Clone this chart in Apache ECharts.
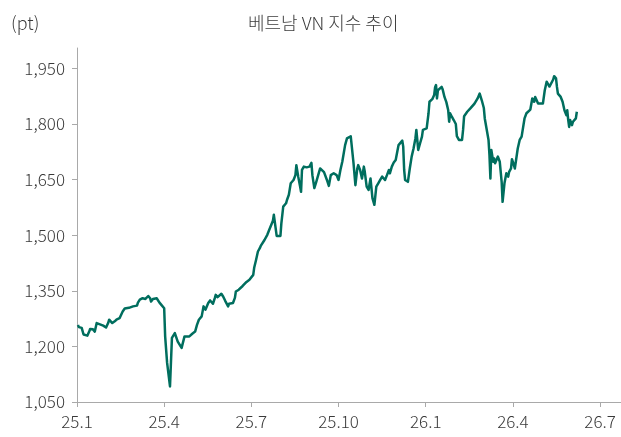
<!DOCTYPE html>
<html>
<head>
<meta charset="utf-8">
<script src="https://cdn.jsdelivr.net/npm/echarts@6/dist/echarts.min.js"></script>
<style>
html,body{margin:0;padding:0;background:#fff;}
#chart{width:621px;height:437px;}
</style>
</head>
<body>
<div id="chart"></div>
<script>
const titleText = '베트남 VN 지수 추이';
const unitText = '(pt)';
const yTicks = [1050, 1200, 1350, 1500, 1650, 1800, 1950];
const xTickMonths = [0, 3, 6, 9, 12, 15, 18];

const dates = [
'2025-01-02','2025-01-03','2025-01-04','2025-01-06','2025-01-08','2025-01-10','2025-01-12','2025-01-14','2025-01-15','2025-01-18',
'2025-01-20','2025-01-22','2025-01-24','2025-01-29','2025-02-01','2025-02-03','2025-02-04','2025-02-07','2025-02-09','2025-02-11',
'2025-02-14','2025-02-17','2025-02-19','2025-02-23','2025-02-27','2025-03-03','2025-03-04','2025-03-06','2025-03-09','2025-03-11',
'2025-03-12','2025-03-14','2025-03-15','2025-03-17','2025-03-18','2025-03-20','2025-03-22','2025-03-24','2025-03-25','2025-03-27',
'2025-03-29','2025-03-30','2025-04-01','2025-04-02','2025-04-04','2025-04-07','2025-04-09','2025-04-12','2025-04-13','2025-04-15',
'2025-04-16','2025-04-19','2025-04-22','2025-04-24','2025-04-27','2025-04-30','2025-05-03','2025-05-05','2025-05-07','2025-05-10',
'2025-05-12','2025-05-14','2025-05-17','2025-05-19','2025-05-22','2025-05-24','2025-05-25','2025-05-27','2025-05-29','2025-05-31',
'2025-06-02','2025-06-04','2025-06-07','2025-06-08','2025-06-12','2025-06-14','2025-06-15','2025-06-18','2025-06-22','2025-06-26',
'2025-06-29','2025-07-03','2025-07-04','2025-07-06','2025-07-08','2025-07-10','2025-07-11','2025-07-13','2025-07-15','2025-07-17',
'2025-07-18','2025-07-20','2025-07-22','2025-07-24','2025-07-25','2025-07-27','2025-07-28','2025-07-30','2025-08-01','2025-08-02',
'2025-08-04','2025-08-07','2025-08-08','2025-08-10','2025-08-12','2025-08-14','2025-08-15','2025-08-17','2025-08-18','2025-08-20',
'2025-08-22','2025-08-23','2025-08-24','2025-08-26','2025-08-29','2025-09-01','2025-09-03','2025-09-04','2025-09-06','2025-09-08',
'2025-09-10','2025-09-12','2025-09-13','2025-09-16','2025-09-19','2025-09-21','2025-09-23','2025-09-26','2025-09-29','2025-10-01',
'2025-10-03','2025-10-05','2025-10-07','2025-10-08','2025-10-10','2025-10-12','2025-10-14','2025-10-15','2025-10-17','2025-10-19',
'2025-10-21','2025-10-22','2025-10-24','2025-10-26','2025-10-28','2025-10-29','2025-10-31','2025-11-02','2025-11-04','2025-11-05',
'2025-11-06','2025-11-08','2025-11-10','2025-11-12','2025-11-14','2025-11-16','2025-11-19','2025-11-21','2025-11-23','2025-11-24',
'2025-11-26','2025-11-28','2025-11-30','2025-12-02','2025-12-03','2025-12-05','2025-12-07','2025-12-08','2025-12-09','2025-12-10',
'2025-12-13','2025-12-15','2025-12-17','2025-12-19','2025-12-21','2025-12-22','2025-12-24','2025-12-26','2025-12-28','2025-12-29',
'2026-01-02','2026-01-04','2026-01-05','2026-01-08','2026-01-10','2026-01-11','2026-01-12','2026-01-13','2026-01-14','2026-01-16',
'2026-01-18','2026-01-19','2026-01-21','2026-01-23','2026-01-25','2026-01-26','2026-01-27','2026-01-29','2026-01-31','2026-02-02',
'2026-02-03','2026-02-05','2026-02-08','2026-02-09','2026-02-10','2026-02-13','2026-02-16','2026-02-20','2026-02-23','2026-02-25',
'2026-02-26','2026-02-27','2026-03-01','2026-03-02','2026-03-04','2026-03-06','2026-03-07','2026-03-08','2026-03-09','2026-03-11',
'2026-03-12','2026-03-13','2026-03-14','2026-03-16','2026-03-18','2026-03-20','2026-03-21','2026-03-23','2026-03-25','2026-03-27',
'2026-03-28','2026-03-30','2026-03-31','2026-04-02','2026-04-03','2026-04-05','2026-04-06','2026-04-08','2026-04-10','2026-04-11',
'2026-04-13','2026-04-15','2026-04-17','2026-04-19','2026-04-21','2026-04-23','2026-04-24','2026-04-26','2026-04-27','2026-04-29',
'2026-05-02','2026-05-04','2026-05-06','2026-05-07','2026-05-09','2026-05-11','2026-05-13','2026-05-14','2026-05-16','2026-05-17',
'2026-05-18','2026-05-20','2026-05-21','2026-05-23','2026-05-25','2026-05-27','2026-05-28','2026-05-29','2026-05-30','2026-05-31',
'2026-06-02','2026-06-03','2026-06-04','2026-06-06','2026-06-07'
];

const vnIndex = [
1258,1252,1247,1250,1232,1233,1229,1240,1247,1246,
1240,1263,1261,1256,1251,1263,1272,1263,1267,1272,
1276,1294,1302,1304,1308,1310,1318,1326,1330,1333,
1328,1333,1336,1330,1321,1328,1333,1330,1326,1318,
1312,1317,1303,1227,1156,1092,1223,1236,1240,1213,
1218,1196,1227,1226,1227,1234,1240,1258,1272,1281,
1308,1299,1317,1324,1315,1330,1339,1333,1333,1342,
1334,1323,1308,1315,1317,1331,1348,1353,1363,1374,
1380,1393,1412,1433,1456,1465,1471,1469,1487,1487,
1501,1514,1517,1539,1555,1557,1498,1493,1498,1532,
1577,1586,1595,1609,1640,1635,1649,1662,1689,1658,
1631,1617,1676,1685,1683,1685,1695,1662,1627,1644,
1662,1680,1676,1670,1649,1633,1662,1667,1662,1649,
1676,1698,1698,1743,1761,1766,1767,1765,1694,1635,
1680,1689,1676,1653,1685,1671,1631,1622,1653,1649,
1600,1582,1631,1640,1649,1658,1649,1662,1676,1667,
1685,1696,1703,1730,1743,1749,1755,1739,1676,1649,
1644,1680,1712,1734,1761,1784,1730,1748,1766,1784,
1788,1829,1860,1867,1878,1899,1905,1869,1891,1896,
1900,1894,1873,1859,1837,1806,1829,1819,1810,1800,
1767,1757,1757,1784,1821,1833,1842,1855,1869,1882,
1879,1864,1843,1815,1810,1757,1716,1653,1730,1698,
1707,1694,1698,1712,1698,1644,1590,1640,1667,1658,
1671,1680,1705,1689,1680,1676,1734,1757,1766,1770,
1815,1829,1833,1839,1869,1860,1873,1875,1855,1855,
1855,1891,1914,1910,1901,1900,1920,1929,1923,1900,
1882,1887,1873,1860,1837,1824,1837,1811,1792,1811,
1797,1806,1802,1815,1833
];

// months elapsed since 2025-01-01 (fractional), so quarters are evenly spaced
function toMonths(s) {
  const p = s.split('-').map(Number);
  const dim = new Date(p[0], p[1], 0).getDate();
  return (p[0] - 2025) * 12 + (p[1] - 1) + (p[2] - 1) / dim;
}
const seriesData = dates.map((d, i) => [toMonths(d), vnIndex[i]]);

const font = "'Noto Sans CJK KR', 'Noto Sans', sans-serif";
const textColor = '#3a3a3a';
const axisColor = '#a9a9a9';

const chart = echarts.init(document.getElementById('chart'), null, {renderer: 'canvas'});
chart.setOption({
  animation: false,
  backgroundColor: '#ffffff',
  title: [
    {text: titleText, left: 243, top: 9,
     textStyle: {fontFamily: font, fontSize: 18, fontWeight: 300, color: textColor}},
    {text: unitText, left: 6, top: 9,
     textStyle: {fontFamily: font, fontSize: 18, fontWeight: 300, color: textColor}}
  ],
  grid: {left: 77, right: 0, top: 48, bottom: 35, containLabel: false},
  xAxis: {
    type: 'value',
    min: 0, max: 18.72,
    splitLine: {show: false},
    axisLine: {show: true, lineStyle: {color: axisColor, width: 1}},
    axisTick: {show: true, length: 5, lineStyle: {color: axisColor}, customValues: xTickMonths},
    axisLabel: {
      customValues: xTickMonths,
      margin: 11,
      fontFamily: font, fontSize: 17, fontWeight: 300, color: textColor,
      formatter: function (v) {
        const m = Math.round(v);
        return (25 + Math.floor(m / 12)) + '.' + (m % 12 + 1);
      }
    }
  },
  yAxis: {
    type: 'value',
    min: 1050, max: 2005,
    splitLine: {show: false},
    axisLine: {show: true, lineStyle: {color: axisColor, width: 1}},
    axisTick: {show: true, length: 5, lineStyle: {color: axisColor}, customValues: yTicks},
    axisLabel: {
      customValues: yTicks,
      margin: 12,
      fontFamily: font, fontSize: 17, fontWeight: 300, color: textColor,
      formatter: function (v) { return v.toLocaleString('en-US'); }
    }
  },
  series: [{
    type: 'line',
    data: seriesData,
    showSymbol: false,
    lineStyle: {color: '#006e5e', width: 2.5, join: 'round'},
    itemStyle: {color: '#006e5e'}
  }]
});
</script>
</body>
</html>
